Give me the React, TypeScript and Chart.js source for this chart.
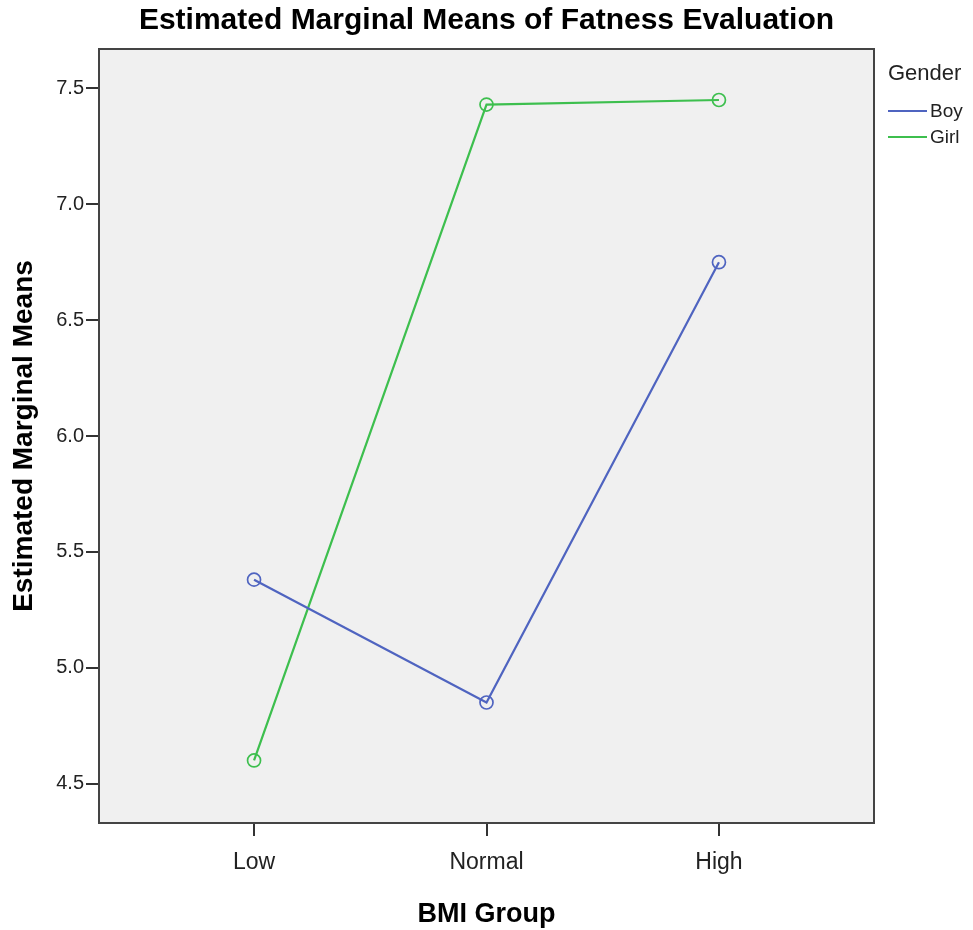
import React, { useEffect, useRef } from "react";
import { Chart, registerables } from "chart.js";

Chart.register(...registerables);

const chartTitle = "Estimated Marginal Means of Fatness Evaluation";
const xAxisTitle = "BMI Group";
const yAxisTitle = "Estimated Marginal Means";
const legendTitle = "Gender";
const categories = ["Low", "Normal", "High"];
const yTickValues = [4.5, 5.0, 5.5, 6.0, 6.5, 7.0, 7.5];
const seriesNames = ["Boy", "Girl"];
const boyValues = [5.38, 4.85, 6.75];
const girlValues = [4.6, 7.43, 7.45];
const seriesColors = ["#4f64c0", "#3dbf4e"];

const FONT = "'Liberation Sans', Arial, Helvetica, sans-serif";

const framePlugin = {
  id: "frame",
  beforeDatasetsDraw(chart: any) {
    const { ctx, chartArea } = chart;
    const { left, top, right, bottom } = chartArea;
    ctx.save();
    ctx.fillStyle = "#f0f0f0";
    ctx.fillRect(left, top, right - left, bottom - top);
    ctx.strokeStyle = "#444444";
    ctx.lineWidth = 2;
    ctx.strokeRect(left, top, right - left, bottom - top);
    ctx.restore();
  },
};

const legendPlugin = {
  id: "sideLegend",
  afterDraw(chart: any) {
    const { ctx, chartArea } = chart;
    const x0 = chartArea.right + 14;
    ctx.save();
    ctx.textAlign = "left";
    ctx.textBaseline = "middle";
    ctx.fillStyle = "#222222";
    ctx.font = `22px ${FONT}`;
    ctx.fillText(legendTitle, x0, chartArea.top + 25);
    chart.data.datasets.forEach((ds: any, i: number) => {
      const y = chartArea.top + 62 + i * 26;
      ctx.strokeStyle = ds.borderColor;
      ctx.lineWidth = 2;
      ctx.beginPath();
      ctx.moveTo(x0, y);
      ctx.lineTo(x0 + 39, y);
      ctx.stroke();
      ctx.fillStyle = "#222222";
      ctx.font = `19px ${FONT}`;
      ctx.fillText(ds.label, x0 + 42, y + 1);
    });
    ctx.restore();
  },
};

export default function App() {
  const canvasRef = useRef<HTMLCanvasElement | null>(null);

  useEffect(() => {
    if (!canvasRef.current) return;
    const seriesValues = [boyValues, girlValues];
    const chart = new Chart(canvasRef.current, {
      type: "line",
      data: {
        datasets: seriesNames.map((name, s) => ({
          label: name,
          data: seriesValues[s].map((v, i) => ({ x: i, y: v })),
          borderColor: seriesColors[s],
          backgroundColor: "rgba(0,0,0,0)",
          borderWidth: 2.2,
          pointRadius: 6.5,
          pointBorderWidth: 1.7,
          pointBackgroundColor: "rgba(0,0,0,0)",
          pointBorderColor: seriesColors[s],
          tension: 0,
          yAxisID: "y",
          xAxisID: "x",
        })),
      },
      options: {
        animation: false,
        responsive: false,
        devicePixelRatio: 1,
        layout: { padding: 0 },
        plugins: {
          legend: { display: false },
          tooltip: { enabled: false },
          title: {
            display: true,
            text: chartTitle,
            color: "#000000",
            font: { family: FONT, size: 30, weight: "bold", lineHeight: 1.2 },
            padding: { top: 3, bottom: 10 },
          },
        },
        scales: {
          x: {
            type: "linear",
            min: -0.667,
            max: 2.667,
            afterBuildTicks: (axis: any) => {
              axis.ticks = categories.map((_, i) => ({ value: i }));
            },
            afterFit: (axis: any) => {
              axis.height = 107;
            },
            ticks: {
              callback: (v: any) => categories[v as number] ?? "",
              color: "#222222",
              font: { family: FONT, size: 23 },
              padding: 13,
              maxRotation: 0,
            },
            grid: {
              display: true,
              drawOnChartArea: false,
              drawTicks: true,
              tickLength: 13,
              color: "#333333",
              lineWidth: 2,
            },
            border: { display: false },
            title: {
              display: true,
              text: xAxisTitle,
              color: "#000000",
              font: { family: FONT, size: 27, weight: "bold", lineHeight: 1.0 },
              padding: { top: 0, bottom: 1.5 },
            },
          },
          y: {
            type: "linear",
            position: "left",
            min: 4.33,
            max: 7.67,
            afterBuildTicks: (axis: any) => {
              axis.ticks = yTickValues.map((v) => ({ value: v }));
            },
            afterFit: (axis: any) => {
              axis.width = 99;
            },
            ticks: {
              callback: (v: any) => Number(v).toFixed(1),
              color: "#222222",
              font: { family: FONT, size: 20 },
              padding: 2,
            },
            grid: {
              display: true,
              drawOnChartArea: false,
              drawTicks: true,
              tickLength: 13,
              color: "#333333",
              lineWidth: 2,
            },
            border: { display: false },
            title: {
              display: true,
              text: yAxisTitle,
              color: "#000000",
              font: { family: FONT, size: 28, weight: "bold", lineHeight: 1.2 },
              padding: { top: 7, bottom: 0 },
            },
          },
          legendSpace: {
            type: "linear",
            position: "right",
            display: true,
            afterFit: (axis: any) => {
              axis.width = 99;
            },
            ticks: { display: false },
            grid: { display: false, drawTicks: false },
            border: { display: false },
          },
        },
      },
      plugins: [framePlugin, legendPlugin],
    } as any);
    return () => chart.destroy();
  }, []);

  return (
    <div style={{ position: "fixed", left: 0, top: 0, width: 973, height: 930, background: "#ffffff" }}>
      <canvas ref={canvasRef} width={973} height={930} style={{ display: "block" }} />
    </div>
  );
}
